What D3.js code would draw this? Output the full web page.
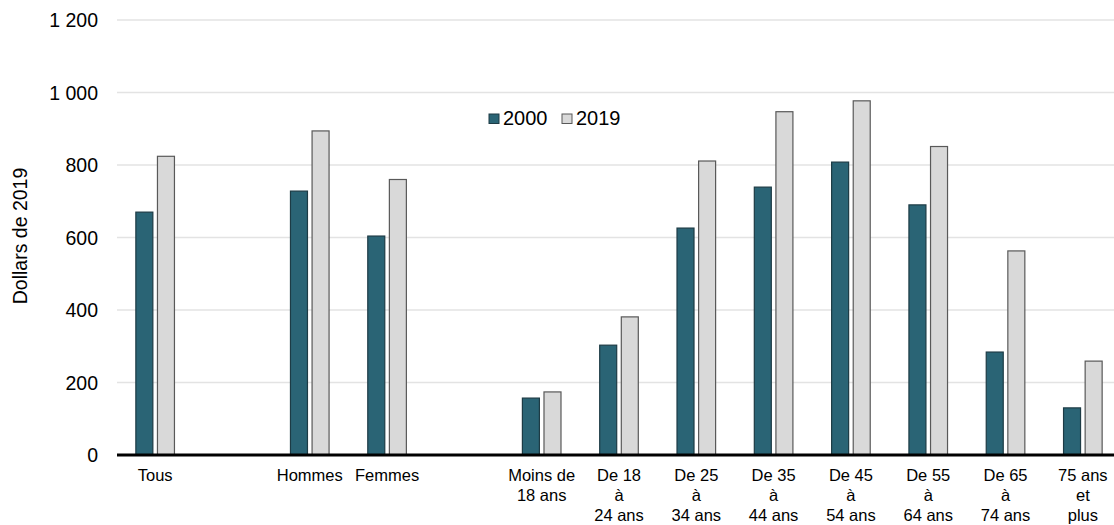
<!DOCTYPE html>
<html><head><meta charset="utf-8">
<script src="https://cdn.jsdelivr.net/npm/d3@7"></script>
<style>body{margin:0;background:#fff}svg{display:block;font-family:"Liberation Sans",Arial,sans-serif}</style>
</head><body><svg id="c" width="1114" height="525"></svg>
<script>
const categories = ["Tous","_g1","Hommes","Femmes","_g2","Moins de 18 ans","De 18 à 24 ans","De 25 à 34 ans","De 35 à 44 ans","De 45 à 54 ans","De 55 à 64 ans","De 65 à 74 ans","75 ans et plus"];
const labelLines = [["Tous"],[],["Hommes"],["Femmes"],[],["Moins de","18 ans"],["De 18","à","24 ans"],["De 25","à","34 ans"],["De 35","à","44 ans"],["De 45","à","54 ans"],["De 55","à","64 ans"],["De 65","à","74 ans"],["75 ans","et","plus"]];
const values2000 = [670,null,728,604,null,157,303,626,739,808,690,284,130];
const values2019 = [824,null,894,760,null,174,381,811,947,977,851,563,259];
const seriesNames = ["2000","2019"];
const yTicks = [0,200,400,600,800,1000,1200];
const yTickLabels = ["0","200","400","600","800","1 000","1 200"];

const svg = d3.select("#c");
const x = d3.scaleBand().domain(categories).range([116.5,1121.5]).padding(0);
const y = d3.scaleLinear().domain([0,1200]).range([455,20]);
const colors = ["#2a6475","#d9d9d9"];
const strokes = ["#1d3b45","#595959"];

// gridlines
svg.append("g").selectAll("line").data(yTicks.filter(d=>d>0)).join("line")
  .attr("x1",117).attr("x2",1114).attr("y1",d=>y(d)).attr("y2",d=>y(d))
  .attr("stroke","#e3e3e3").attr("stroke-width",1.5);

// y tick labels
svg.append("g").selectAll("text").data(yTicks).join("text")
  .attr("x",98).attr("y",d=>y(d)).attr("dy","0.36em").attr("text-anchor","end")
  .attr("font-size",19.5).attr("fill","#000").text((d,i)=>yTickLabels[i]);

svg.append("text").attr("transform","translate(27,236) rotate(-90)")
  .attr("text-anchor","middle").attr("font-size",19.5).attr("fill","#000").text("Dollars de 2019");

const bw = 17, gap = 2.3;
[values2000, values2019].forEach((vals,si)=>{
  svg.append("g").selectAll("rect").data(categories.map((c,i)=>({c,v:vals[i]})).filter(d=>d.v!=null)).join("rect")
    .attr("x",d=>x(d.c)+x.bandwidth()/2 + (si===0 ? -gap-bw : gap))
    .attr("width",bw)
    .attr("y",d=>y(d.v)).attr("height",d=>y(0)-y(d.v))
    .attr("fill",colors[si]).attr("stroke",strokes[si]).attr("stroke-width",1.2);
});

// baseline
svg.append("line").attr("x1",117).attr("x2",1114).attr("y1",y(0)).attr("y2",y(0))
  .attr("stroke","#000").attr("stroke-width",3);

// category labels
const lg = svg.append("g");
categories.forEach((c,i)=>{
  const t = lg.append("text").attr("text-anchor","middle").attr("font-size",16.5).attr("fill","#000");
  labelLines[i].forEach((ln,j)=>{
    t.append("tspan").attr("x",x(c)+x.bandwidth()/2).attr("y",481+j*20).text(ln);
  });
});

// legend
const leg = svg.append("g");
const legX = [489,562];
seriesNames.forEach((n,i)=>{
  leg.append("rect").attr("x",legX[i]).attr("y",114).attr("width",10).attr("height",9.5)
    .attr("fill",colors[i]).attr("stroke",strokes[i]).attr("stroke-width",1);
  leg.append("text").attr("x",legX[i]+14).attr("y",124.5)
    .attr("font-size",20).attr("fill","#000").text(n);
});
</script></body></html>
